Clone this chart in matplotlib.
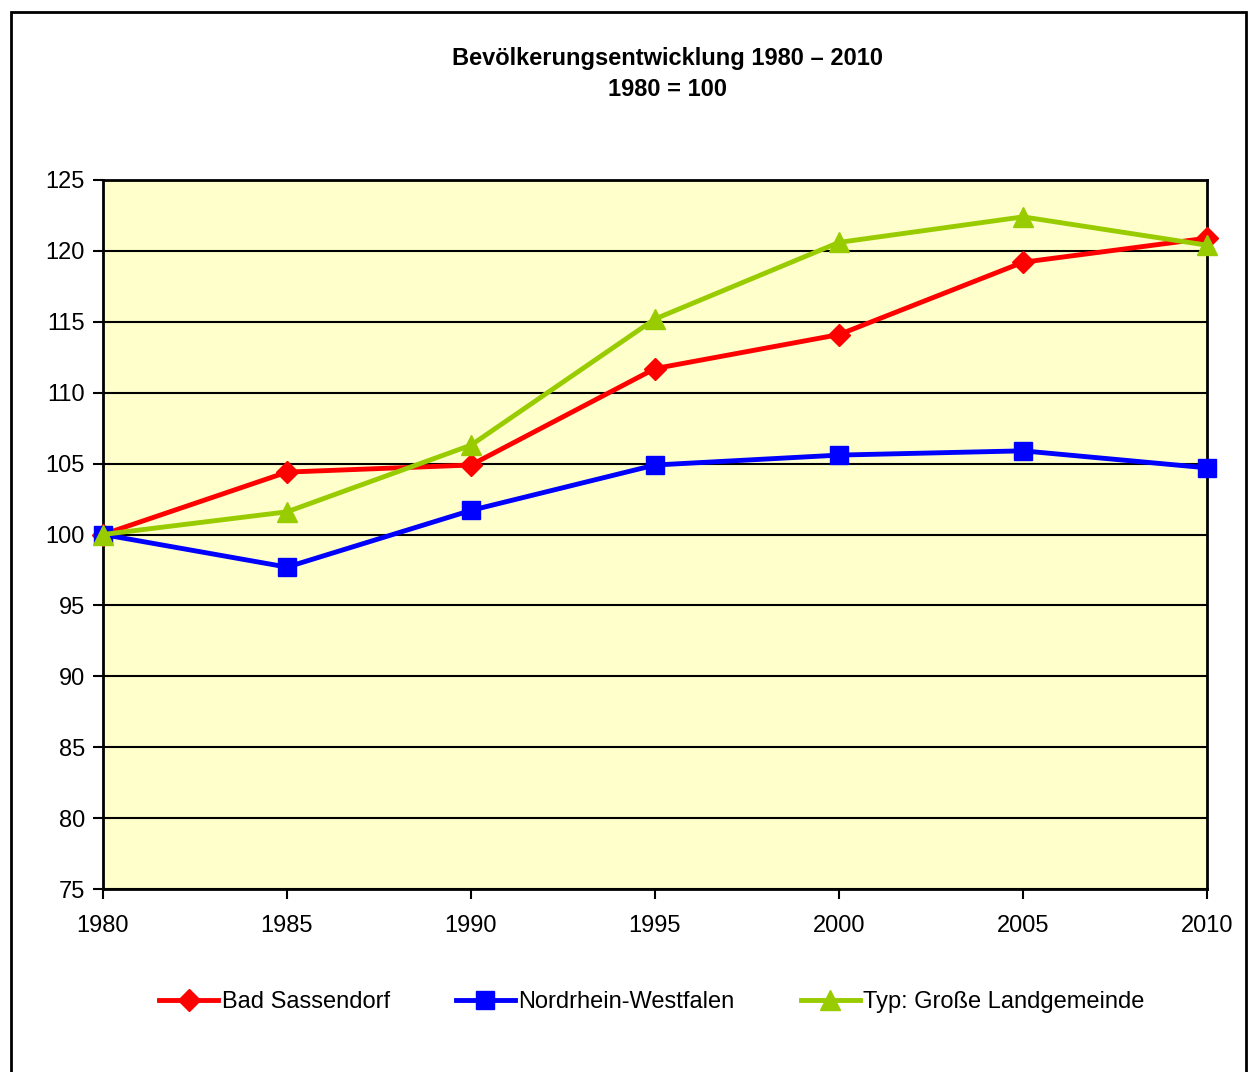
import matplotlib.pyplot as plt
from matplotlib.patches import Rectangle

plt.rcParams['font.family'] = ['Liberation Sans', 'DejaVu Sans']

years = [1980, 1985, 1990, 1995, 2000, 2005, 2010]
bad_sassendorf = [100, 104.4, 104.9, 111.7, 114.1, 119.2, 120.9]
nrw = [100, 97.7, 101.7, 104.9, 105.6, 105.9, 104.7]
landgemeinde = [100, 101.6, 106.3, 115.2, 120.6, 122.4, 120.4]
labels = ["Bad Sassendorf", "Nordrhein-Westfalen", "Typ: Große Landgemeinde"]

fig = plt.figure(figsize=(12.49, 10.72), dpi=100)
ax = fig.add_axes([103 / 1249, 1 - 889 / 1072, 1104 / 1249, 709 / 1072])

# outer frame of the chart
fig.patches.append(Rectangle((11 / 1249, -0.05), 1235 / 1249, 1.05 - 12 / 1072,
                             transform=fig.transFigure, fill=False,
                             edgecolor='black', linewidth=2))

ax.set_facecolor('#FFFFCC')
ax.set_axisbelow(True)
ax.yaxis.grid(True, color='black', linewidth=1.5)

ax.plot(years, bad_sassendorf, color='#FF0000', lw=3.5, marker='D', ms=11,
        label=labels[0], clip_on=False, zorder=3)
ax.plot(years, nrw, color='#0000FF', lw=3.5, marker='s', ms=13,
        label=labels[1], clip_on=False, zorder=3)
ax.plot(years, landgemeinde, color='#99CC00', lw=3.5, marker='^', ms=15,
        label=labels[2], clip_on=False, zorder=4)

ax.set_xlim(1980, 2010)
ax.set_ylim(75, 125)
ax.set_xticks(years)
ax.set_yticks(range(75, 126, 5))
ax.tick_params(labelsize=17, length=7, width=1.5, color='black')
ax.tick_params(axis='x', pad=12)
ax.tick_params(axis='y', pad=6)
for s in ax.spines.values():
    s.set_linewidth(2)

fig.text(667 / 1249, 1 - 58 / 1072, "Bevölkerungsentwicklung 1980 – 2010",
         ha='center', va='center', fontsize=17, fontweight='bold')
fig.text(667 / 1249, 1 - 89 / 1072, "1980 = 100",
         ha='center', va='center', fontsize=17, fontweight='bold')

fig.legend(loc='center', bbox_to_anchor=(652 / 1249, 1 - 1002 / 1072), ncol=3,
           frameon=False, fontsize=17, handlelength=2.5, handletextpad=0.15,
           columnspacing=2.8)

fig.savefig('out.png', dpi=100)
